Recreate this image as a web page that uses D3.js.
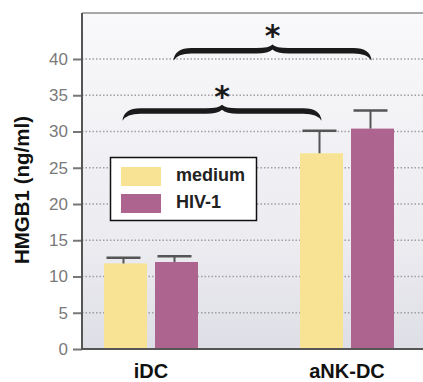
<!DOCTYPE html>
<html><head><meta charset="utf-8">
<script src="https://cdn.jsdelivr.net/npm/d3@7"></script>
<style>body{margin:0;background:#fff}svg{display:block}</style>
</head><body>
<svg id="c" width="423" height="382"></svg>
<script>
const categories = ["iDC", "aNK-DC"];
const seriesNames = ["medium", "HIV-1"];
const medium = [11.8, 27.0];
const hiv = [12.0, 30.4];
const mediumErr = [0.8, 3.1];
const hivErr = [0.8, 2.5];
const yTicks = [0, 5, 10, 15, 20, 25, 30, 35, 40];
const colors = ["#f7e393", "#ad6590"];

const svg = d3.select("#c");
const L = 82, R = 423, T = 13, B = 349;
const y = d3.scaleLinear().domain([0, 40]).range([B, 59]);
const x = d3.scalePoint().domain(categories).range([151, 347]);
const xi = d3.scaleBand().domain(seriesNames).range([-47, 47]).paddingInner(0.157);

const defs = svg.append("defs");
const g = defs.append("linearGradient").attr("id","bg").attr("x1",0).attr("y1",0).attr("x2",0).attr("y2",1);
g.append("stop").attr("offset","0%").attr("stop-color","#f9f9fb");
g.append("stop").attr("offset","70%").attr("stop-color","#ebebf0");
g.append("stop").attr("offset","100%").attr("stop-color","#dedee6");
svg.append("rect").attr("x",L).attr("y",T).attr("width",R-L).attr("height",B-T).attr("fill","url(#bg)");

// grid
svg.append("g").selectAll("line").data(yTicks.filter(d=>d>0)).join("line")
  .attr("x1",L).attr("x2",R).attr("y1",d=>y(d)).attr("y2",d=>y(d))
  .attr("stroke","#a0a0a4").attr("stroke-width",1.5).attr("stroke-dasharray","1.5,2");

// bars
const data = [];
categories.forEach((c,i)=>{
  data.push({c, s:"medium", v:medium[i], e:mediumErr[i], col:colors[0]});
  data.push({c, s:"HIV-1", v:hiv[i], e:hivErr[i], col:colors[1]});
});
svg.append("g").selectAll("rect").data(data).join("rect")
  .attr("x",d=>x(d.c)+xi(d.s)).attr("width",xi.bandwidth())
  .attr("y",d=>y(d.v)).attr("height",d=>B-y(d.v)).attr("fill",d=>d.col);

// error bars
const eg = svg.append("g").attr("stroke","#555").attr("fill","none");
data.forEach(d=>{
  const cx = x(d.c)+xi(d.s)+xi.bandwidth()/2 - 2;
  eg.append("line").attr("x1",cx).attr("x2",cx).attr("y1",y(d.v)).attr("y2",y(d.v+d.e)).attr("stroke-width",2);
  eg.append("line").attr("x1",cx-17).attr("x2",cx+17).attr("y1",y(d.v+d.e)).attr("y2",y(d.v+d.e)).attr("stroke-width",2.5);
});

// axes frame
svg.append("line").attr("x1",L).attr("x2",R).attr("y1",T).attr("y2",T).attr("stroke","#555").attr("stroke-width",1);
svg.append("line").attr("x1",L).attr("x2",R).attr("y1",B).attr("y2",B).attr("stroke","#555").attr("stroke-width",2);
const yAxis = d3.axisLeft(y).tickValues(yTicks).tickSize(9).tickPadding(5);
const ya = svg.append("g").attr("transform",`translate(${L},0)`).call(yAxis);
ya.select(".domain").remove();
ya.selectAll(".tick line").attr("stroke","#777").attr("stroke-width",2);
ya.selectAll(".tick text").attr("fill","#7a7a7a").attr("font-family","Liberation Sans, Arial, sans-serif").attr("font-size",17);
svg.append("line").attr("x1",L).attr("x2",L).attr("y1",T).attr("y2",B+1).attr("stroke","#555").attr("stroke-width",2);

// x labels
svg.append("g").selectAll("text").data(categories).join("text")
  .attr("x",d=>x(d)).attr("y",378).attr("text-anchor","middle")
  .attr("font-family","Liberation Sans, Arial, sans-serif").attr("font-weight","bold").attr("font-size",20).attr("fill","#111")
  .text(d=>d);

// y label
svg.append("text").attr("transform","translate(29,190) rotate(-90)").attr("text-anchor","middle")
  .attr("font-family","Liberation Sans, Arial, sans-serif").attr("font-weight","bold").attr("font-size",20.5).attr("fill","#111")
  .text("HMGB1 (ng/ml)");

// braces
function brace(x1, x2, yb, yf, yt, t){
  const xm = (x1+x2)/2;
  return `M${x1},${yb} Q${x1+1},${yf-t} ${x1+18},${yf-t} L${xm-16},${yf-t} Q${xm-3},${yf-t} ${xm},${yt}`+
    ` Q${xm+3},${yf-t} ${xm+16},${yf-t} L${x2-18},${yf-t} Q${x2-1},${yf-t} ${x2},${yb}`+
    ` Q${x2-4},${yf} ${x2-18},${yf} L${xm+16},${yf} Q${xm+4},${yf} ${xm},${yt+5}`+
    ` Q${xm-4},${yf} ${xm-16},${yf} L${x1+18},${yf} Q${x1+4},${yf} ${x1},${yb} Z`;
}
const bc = (c,s)=>x(c)+xi(s)+xi.bandwidth()/2;
const braces = [
  {x1: bc("iDC","medium")-3, x2: bc("aNK-DC","medium"), v: 31.5},
  {x1: bc("iDC","HIV-1")-3, x2: bc("aNK-DC","HIV-1")-1, v: 39.8}
];
braces.forEach(b=>{
  const yb = y(b.v);
  svg.append("path").attr("d", brace(b.x1, b.x2, yb, yb-7, yb-16, 5.5)).attr("fill","#1a1a1a");
  svg.append("text").attr("x",(b.x1+b.x2)/2).attr("y",yb-14).attr("text-anchor","middle")
    .attr("font-family","DejaVu Sans, sans-serif").attr("font-weight","bold").attr("font-size",30).attr("fill","#1a1a1a").text("*");
});

// legend
const lg = svg.append("g");
lg.append("rect").attr("x",110.5).attr("y",157.5).attr("width",146).attr("height",63).attr("fill","#fff").attr("stroke","#111").attr("stroke-width",1.5);
seriesNames.forEach((s,i)=>{
  lg.append("rect").attr("x",121).attr("y",167+i*27).attr("width",40).attr("height",19).attr("fill",colors[i]);
  lg.append("text").attr("x",176).attr("y",181+i*27).attr("font-family","Liberation Sans, Arial, sans-serif")
    .attr("font-weight","bold").attr("font-size",18).attr("fill","#222").text(s);
});
</script>
</body></html>
